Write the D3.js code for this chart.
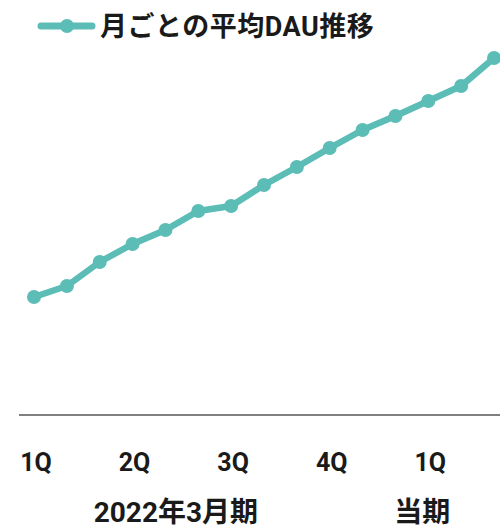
<!DOCTYPE html>
<html>
<head>
<meta charset="utf-8">
<script src="https://cdn.jsdelivr.net/npm/d3@7"></script>
<style>
  html, body { margin: 0; padding: 0; background: #fff; }
  svg { display: block; }
  text { font-family: Roboto, "Noto Sans CJK JP", sans-serif; font-weight: 700; fill: #1a1a1a; }
</style>
</head>
<body>
<div id="chart"></div>
<script>
// Monthly average DAU (relative units), 15 months
const months = d3.range(15);
const dauValues = [118, 129, 153, 171, 185, 204, 209, 230, 248, 267, 285, 299, 314, 329, 357];
// Quarter labels sit on the first month of each quarter
const quarterIndex = [0, 3, 6, 9, 12];
const quarterLabels = ["1Q", "2Q", "3Q", "4Q", "1Q"];
// Fiscal-year groups: label and the quarter ticks they cover
const groupLabels = ["2022年3月期", "当期"];
const groupQuarters = [[0, 1, 2, 3], [4]];
const seriesName = "月ごとの平均DAU推移";

const W = 500, H = 528;
const color = "#5bbdb6";

const svg = d3.select("#chart").append("svg")
  .attr("width", W).attr("height", H);

const x = d3.scaleLinear().domain([0, 14]).range([34, 494]);
const y = d3.scaleLinear().domain([0, 360]).range([415, 55]);

// baseline
svg.append("line")
  .attr("x1", 19).attr("x2", W)
  .attr("y1", y(0)).attr("y2", y(0))
  .attr("stroke", "#808080").attr("stroke-width", 2.2);

// series line
const line = d3.line().x((d, i) => x(months[i])).y(d => y(d));
svg.append("path")
  .datum(dauValues)
  .attr("d", line)
  .attr("fill", "none")
  .attr("stroke", color)
  .attr("stroke-width", 6.5)
  .attr("stroke-linejoin", "round");

svg.append("g").selectAll("circle")
  .data(dauValues)
  .join("circle")
  .attr("cx", (d, i) => x(months[i]))
  .attr("cy", d => y(d))
  .attr("r", 7)
  .attr("fill", color);

// quarter tick labels
svg.append("g").selectAll("text")
  .data(quarterLabels)
  .join("text")
  .attr("x", (d, i) => x(quarterIndex[i]) + 2)
  .attr("y", 471)
  .attr("text-anchor", "middle")
  .attr("font-size", 25)
  .text(d => d);

// fiscal-year group labels
svg.append("g").selectAll("text")
  .data(groupLabels)
  .join("text")
  .attr("x", (d, i) => d3.mean(groupQuarters[i], q => x(quarterIndex[q])) - 6)
  .attr("y", 522)
  .attr("text-anchor", "middle")
  .attr("font-size", 28)
  .text(d => d);

// legend
const lg = svg.append("g");
lg.append("line")
  .attr("x1", 41).attr("x2", 92).attr("y1", 26).attr("y2", 26)
  .attr("stroke", color).attr("stroke-width", 7).attr("stroke-linecap", "round");
lg.append("circle").attr("cx", 67).attr("cy", 26).attr("r", 7).attr("fill", color);
lg.append("text")
  .attr("x", 100).attr("y", 36)
  .attr("font-size", 27)
  .attr("letter-spacing", 0.5)
  .text(seriesName);
</script>
</body>
</html>
